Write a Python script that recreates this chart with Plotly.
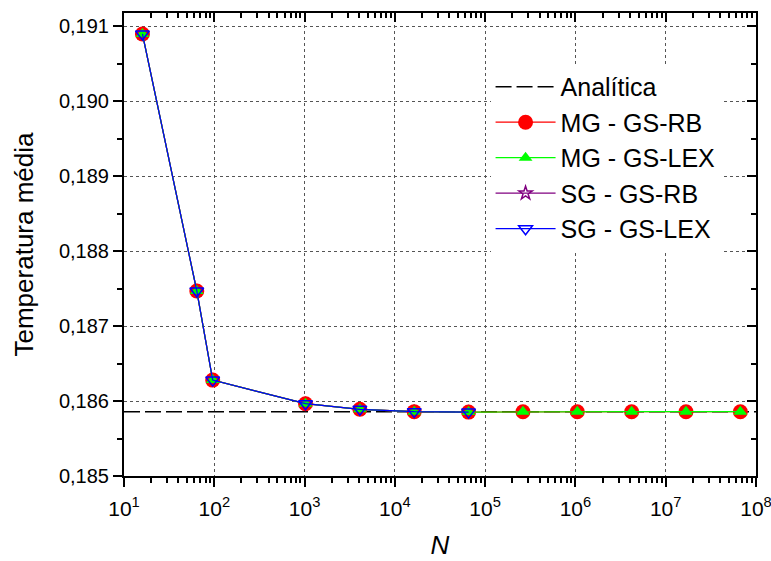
import plotly.graph_objects as go

# Mesh sizes and mean temperature results
n_mg = [16, 64, 96, 1024, 4096, 16384, 65536, 262144, 1048576, 4194304, 16777216, 67108864]
t_mg_rb = [0.19090, 0.18747, 0.18628, 0.185965, 0.18589, 0.185859, 0.185853,
           0.185858, 0.185858, 0.185858, 0.185858, 0.185858]
t_mg_lex = [0.19090, 0.18747, 0.18628, 0.185965, 0.18589, 0.185859, 0.185853,
            0.185858, 0.185858, 0.185858, 0.185858, 0.185858]
n_sg = [16, 64, 96, 1024, 4096, 16384, 65536]
t_sg_rb = [0.19090, 0.18747, 0.18628, 0.185965, 0.18589, 0.185859, 0.185853]
t_sg_lex = [0.19090, 0.18747, 0.18628, 0.185965, 0.18589, 0.185859, 0.185853]
n_exact = [10, 1e8]
t_exact = [0.185858, 0.185858]

x_tickvals = [1e1, 1e2, 1e3, 1e4, 1e5, 1e6, 1e7, 1e8]
x_ticktext = ["10<sup>%d</sup>" % k for k in range(1, 9)]
y_tickvals = [0.185, 0.186, 0.187, 0.188, 0.189, 0.190, 0.191]
y_ticktext = ["0,185", "0,186", "0,187", "0,188", "0,189", "0,190", "0,191"]
y_minorvals = [0.1855, 0.1865, 0.1875, 0.1885, 0.1895, 0.1905]

FONT = "Liberation Sans, Arial, sans-serif"

fig = go.Figure()

fig.add_trace(go.Scatter(
    x=n_exact, y=t_exact, mode="lines", name="Analítica", legendrank=1,
    line=dict(color="black", width=1.6, dash="16px,5px")))
fig.add_trace(go.Scatter(
    x=n_sg, y=t_sg_rb, mode="lines+markers", name="SG - GS-RB", legendrank=4,
    line=dict(color="#800080", width=1.2),
    marker=dict(symbol="star-open", size=10, color="#800080", line=dict(width=1.5))))
fig.add_trace(go.Scatter(
    x=n_mg, y=t_mg_rb, mode="lines+markers", name="MG - GS-RB", legendrank=2,
    line=dict(color="#FF0000", width=1.2),
    marker=dict(symbol="circle", size=15, color="#FF0000", line=dict(width=0))))
fig.add_trace(go.Scatter(
    x=n_mg, y=t_mg_lex, mode="lines+markers", name="MG - GS-LEX", legendrank=3,
    line=dict(color="#00FF00", width=1.2),
    marker=dict(symbol="triangle-up", size=12, color="#00FF00", line=dict(width=0))))
fig.add_trace(go.Scatter(
    x=n_sg, y=t_sg_lex, mode="lines+markers", name="SG - GS-LEX", legendrank=5,
    line=dict(color="#0000FF", width=1.2),
    marker=dict(symbol="triangle-down-open", size=12, color="#0000FF", line=dict(width=1.5))))

# Empty trace that carries the top/right frame axes
fig.add_trace(go.Scatter(x=[], y=[], xaxis="x2", yaxis="y2", showlegend=False,
                         hoverinfo="skip"))

x_range = [0.99999, 8.00001]
y_range = [0.185, 0.19118]

fig.update_layout(
    width=771, height=561,
    margin=dict(l=124, r=15, t=13, b=85),
    plot_bgcolor="white", paper_bgcolor="white",
    font=dict(family=FONT, color="black", size=20),
    showlegend=True,
    legend=dict(
        x=0.58, y=0.89, xanchor="left", yanchor="top",
        bgcolor="white", borderwidth=0,
        font=dict(size=25, family=FONT),
        itemwidth=60, tracegroupgap=0,
    ),
    xaxis=dict(
        type="log", range=x_range, automargin=False,
        showline=True, linecolor="black", linewidth=2, mirror=True,
        ticks="outside", ticklen=9, tickwidth=1.5, tickcolor="black",
        tickmode="array", tickvals=x_tickvals, ticktext=x_ticktext,
        ticklabelstandoff=4, ticklabeloverflow="allow",
        tickfont=dict(size=21, family=FONT),
        minor=dict(ticks="outside", ticklen=5, tickwidth=1.5, tickcolor="black",
                   dtick="D1", showgrid=False),
        showgrid=True, gridcolor="#555555", gridwidth=1, griddash="dot",
        zeroline=False,
        title=dict(text="<i>N</i>", font=dict(size=26, family=FONT), standoff=17),
    ),
    yaxis=dict(
        range=y_range, automargin=False,
        showline=True, linecolor="black", linewidth=2, mirror=True,
        ticks="outside", ticklen=9, tickwidth=1.5, tickcolor="black",
        tickmode="array", tickvals=y_tickvals, ticktext=y_ticktext,
        tickfont=dict(size=20, family=FONT),
        minor=dict(ticks="outside", ticklen=5, tickwidth=1.5, tickcolor="black",
                   tickvals=y_minorvals, showgrid=False),
        showgrid=True, gridcolor="#555555", gridwidth=1, griddash="dot",
        zeroline=False,
        title=dict(text="Temperatura média", font=dict(size=26, family=FONT), standoff=18),
    ),
    xaxis2=dict(
        type="log", range=x_range, overlaying="x", side="top", anchor="y2",
        automargin=False,
        showline=False, showticklabels=False, showgrid=False, zeroline=False,
        ticks="inside", ticklen=9, tickwidth=1.5, tickcolor="black",
        tickmode="array", tickvals=x_tickvals,
        minor=dict(ticks="inside", ticklen=5, tickwidth=1.5, tickcolor="black",
                   dtick="D1"),
    ),
    yaxis2=dict(
        range=y_range, overlaying="y", side="right", anchor="x2",
        automargin=False,
        showline=False, showticklabels=False, showgrid=False, zeroline=False,
        ticks="inside", ticklen=9, tickwidth=1.5, tickcolor="black",
        tickmode="array", tickvals=y_tickvals,
        minor=dict(ticks="inside", ticklen=5, tickwidth=1.5, tickcolor="black",
                   tickvals=y_minorvals),
    ),
)

fig.write_html("out.html")
